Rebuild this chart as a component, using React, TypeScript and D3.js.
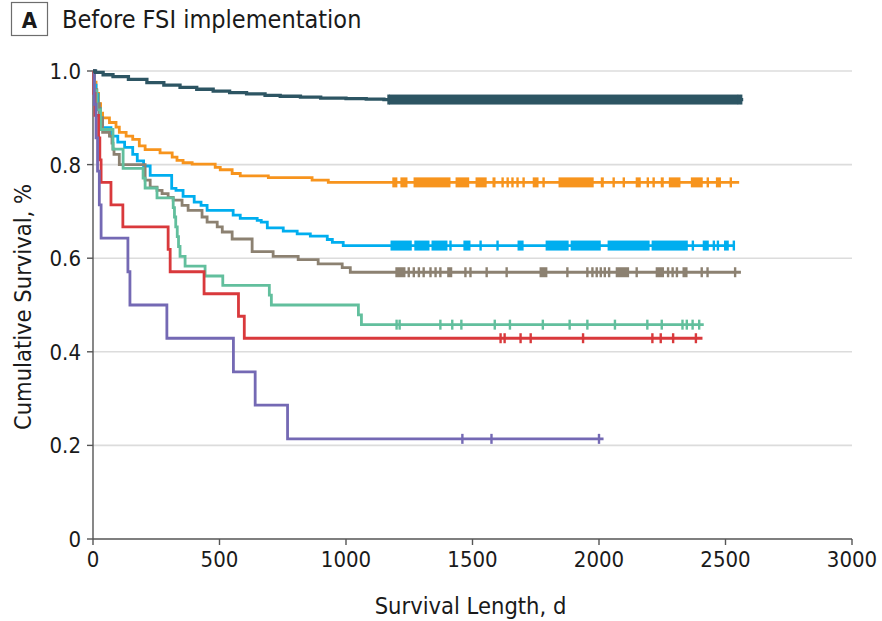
import React from 'react';
import * as d3 from 'd3';

const W = 882;
const H = 621;

const xTicks = [0, 500, 1000, 1500, 2000, 2500, 3000];
const yTicks = [0, 0.2, 0.4, 0.6, 0.8, 1.0];
const yTickLabels = ['0', '0.2', '0.4', '0.6', '0.8', '1.0'];

const panelLetter = 'A';
const panelTitle = 'Before FSI implementation';
const xTitle = 'Survival Length, d';
const yTitle = 'Cumulative Survival, %';

// [day, survival after step]
const darkSteps: [number, number][] = [
  [0, 1], [10, 0.997], [40, 0.992], [79, 0.988], [140, 0.982], [213, 0.975], [280, 0.97], [344, 0.965],
  [410, 0.961], [475, 0.957], [540, 0.954], [607, 0.951], [680, 0.948], [740, 0.946], [820, 0.944],
  [900, 0.942], [1000, 0.941], [1080, 0.94], [1150, 0.939],
];
const darkEnd = 2570;
const darkCensor: number[] = [1168, 2553, 2562];
const darkBands: [number, number][] = [[1170, 2550]];

const orangeSteps: [number, number][] = [
  [0, 1], [5, 0.976], [12, 0.952], [22, 0.93], [30, 0.91], [38, 0.9], [65, 0.89], [91, 0.88],
  [104, 0.869], [131, 0.861], [157, 0.854], [183, 0.84], [206, 0.832], [265, 0.825], [313, 0.816],
  [332, 0.809], [356, 0.804], [392, 0.801], [483, 0.794], [503, 0.789], [550, 0.781], [582, 0.776],
  [693, 0.772], [866, 0.767], [930, 0.762],
];
const orangeEnd = 2554;
const orangeCensor: number[] = [1619, 1639, 1658, 1678, 1702, 1781, 2058, 2098, 2193, 2216, 2430, 2521];
const orangeBands: [number, number][] = [
  [1183, 1203], [1215, 1243], [1267, 1413], [1433, 1487], [1512, 1556], [1579, 1591], [1738, 1761],
  [1840, 1979], [2007, 2019], [2145, 2165], [2244, 2256], [2276, 2322], [2363, 2410], [2462, 2482],
];

const blueSteps: [number, number][] = [
  [0, 1], [5, 0.97], [12, 0.95], [20, 0.92], [28, 0.9], [36, 0.879], [71, 0.861], [98, 0.848],
  [125, 0.837], [157, 0.822], [175, 0.808], [200, 0.797], [226, 0.777], [311, 0.749], [328, 0.745],
  [356, 0.732], [400, 0.72], [427, 0.713], [451, 0.702], [554, 0.692], [582, 0.685], [649, 0.681],
  [665, 0.677], [689, 0.665], [752, 0.658], [807, 0.652], [859, 0.647], [926, 0.64], [946, 0.634],
  [989, 0.627],
];
const blueEnd = 2537;
const blueCensor: number[] = [1413, 1532, 1599, 2371, 2454, 2470, 2533];
const blueBands: [number, number][] = [
  [1176, 1260], [1270, 1330], [1338, 1401], [1464, 1492], [1678, 1702], [1789, 1880], [1888, 2007],
  [2034, 2200], [2208, 2351], [2410, 2434], [2494, 2513],
];

const brownSteps: [number, number][] = [
  [0, 1], [5, 0.96], [15, 0.93], [25, 0.9], [38, 0.869], [65, 0.861], [75, 0.846], [79, 0.833],
  [83, 0.822], [104, 0.8], [206, 0.767], [226, 0.752], [253, 0.745], [273, 0.738], [297, 0.73],
  [317, 0.724], [352, 0.713], [376, 0.702], [431, 0.688], [451, 0.677], [491, 0.667], [511, 0.656],
  [550, 0.641], [629, 0.614], [712, 0.604], [811, 0.597], [890, 0.588], [985, 0.58], [1017, 0.57],
];
const brownEnd = 2561;
const brownCensor: number[] = [
  1248, 1268, 1288, 1307, 1334, 1354, 1373, 1472, 1492, 1556, 1635, 1875, 1954, 1974, 1991, 2007,
  2023, 2040, 2149, 2273, 2291, 2308, 2406, 2429, 2538,
];
const brownBands: [number, number][] = [
  [1195, 1235], [1400, 1420], [1765, 1796], [2066, 2119], [2224, 2257], [2330, 2350],
];

const tealSteps: [number, number][] = [
  [0, 1], [5, 0.958], [15, 0.917], [30, 0.875], [79, 0.833], [119, 0.792], [198, 0.771],
  [206, 0.75], [253, 0.729], [317, 0.708], [322, 0.688], [327, 0.667], [333, 0.646], [338, 0.625],
  [344, 0.604], [364, 0.583], [443, 0.562], [513, 0.542], [697, 0.521], [705, 0.5], [1049, 0.479],
  [1061, 0.458],
];
const tealEnd = 2414;
const tealCensor: number[] = [
  1200, 1212, 1373, 1420, 1456, 1588, 1648, 1778, 1884, 1954, 2063, 2191, 2248, 2330, 2347, 2370, 2396,
];

const redSteps: [number, number][] = [
  [0, 1], [3, 0.952], [8, 0.905], [22, 0.857], [27, 0.81], [32, 0.762], [71, 0.714], [118, 0.667],
  [297, 0.619], [305, 0.571], [439, 0.524], [575, 0.476], [598, 0.429],
];
const redEnd = 2409;
const redCensor: number[] = [1611, 1627, 1690, 1730, 1937, 2211, 2244, 2293, 2383];

const purpleSteps: [number, number][] = [
  [0, 1], [5, 0.929], [12, 0.857], [18, 0.786], [25, 0.714], [32, 0.643], [138, 0.571], [146, 0.5],
  [292, 0.429], [555, 0.357], [641, 0.286], [769, 0.214],
];
const purpleEnd = 2018;
const purpleCensor: number[] = [1460, 1575, 2000];

type Series = {
  color: string;
  width: number;
  steps: [number, number][];
  end: number;
  censor: number[];
  bands: [number, number][];
};

const seriesList: Series[] = [
  { color: '#f7941d', width: 2.8, steps: orangeSteps, end: orangeEnd, censor: orangeCensor, bands: orangeBands },
  { color: '#00aeef', width: 2.8, steps: blueSteps, end: blueEnd, censor: blueCensor, bands: blueBands },
  { color: '#8c8171', width: 2.8, steps: brownSteps, end: brownEnd, censor: brownCensor, bands: brownBands },
  { color: '#62bf9d', width: 2.8, steps: tealSteps, end: tealEnd, censor: tealCensor, bands: [] },
  { color: '#d9393c', width: 2.8, steps: redSteps, end: redEnd, censor: redCensor, bands: [] },
  { color: '#7469b4', width: 2.8, steps: purpleSteps, end: purpleEnd, censor: purpleCensor, bands: [] },
  { color: '#2d5563', width: 3.3, steps: darkSteps, end: darkEnd, censor: darkCensor, bands: darkBands },
];

const FONT = '"DejaVu Sans Condensed", "Liberation Sans Narrow", "Roboto", sans-serif';

export default function App() {
  const x = d3.scaleLinear().domain([0, 3000]).range([93, 852]);
  const y = d3.scaleLinear().domain([0, 1]).range([539, 71]);

  const line = d3
    .line<[number, number]>()
    .x((d) => x(d[0]))
    .y((d) => y(d[1]))
    .curve(d3.curveStepAfter);

  const valueAt = (steps: [number, number][], day: number) => {
    const i = d3.bisector((d: [number, number]) => d[0]).right(steps, day) - 1;
    return steps[Math.max(0, i)][1];
  };

  return (
    <svg
      width={W}
      height={H}
      style={{ position: 'absolute', left: 0, top: 0, background: '#fff' }}
      fontFamily={FONT}
    >
      {/* header */}
      <rect x={11.5} y={2.5} width={36} height={33} fill="#fff" stroke="#6d6d6d" strokeWidth={1.2} />
      <text x={29.5} y={27.5} textAnchor="middle" fontSize={22} fontWeight="bold" fill="#1a1a1a">
        {panelLetter}
      </text>
      <text x={62} y={28} fontSize={25} fill="#1a1a1a">
        {panelTitle}
      </text>

      {/* grid */}
      {yTicks.slice(1).map((t) => (
        <line key={'g' + t} x1={x(0)} x2={x(3000)} y1={y(t)} y2={y(t)} stroke="#dcdcdc" strokeWidth={1.6} />
      ))}

      {/* axes */}
      <line x1={x(0)} x2={x(3000)} y1={y(0)} y2={y(0)} stroke="#555" strokeWidth={1.4} />
      <line x1={x(0)} x2={x(0)} y1={y(0)} y2={y(1)} stroke="#555" strokeWidth={1.4} />
      {yTicks.map((t, i) => (
        <g key={'yt' + t}>
          <line x1={x(0) - 6} x2={x(0)} y1={y(t)} y2={y(t)} stroke="#555" strokeWidth={1.4} />
          <text x={x(0) - 12} y={y(t)} dy="0.36em" textAnchor="end" fontSize={22} fill="#1a1a1a">
            {yTickLabels[i]}
          </text>
        </g>
      ))}
      {xTicks.map((t) => (
        <g key={'xt' + t}>
          <line x1={x(t)} x2={x(t)} y1={y(0)} y2={y(0) + 6} stroke="#555" strokeWidth={1.4} />
          <text x={x(t)} y={y(0) + 28} textAnchor="middle" fontSize={22} fill="#1a1a1a">
            {t}
          </text>
        </g>
      ))}
      <text x={(x(0) + x(3000)) / 2 - 2} y={614} textAnchor="middle" fontSize={23.5} fill="#1a1a1a">
        {xTitle}
      </text>
      <text
        transform={`translate(31, ${(y(0) + y(1)) / 2 + 2}) rotate(-90)`}
        textAnchor="middle"
        fontSize={23.5}
        fill="#1a1a1a"
      >
        {yTitle}
      </text>

      {/* curves */}
      {seriesList.map((s, si) => {
        const last = s.steps[s.steps.length - 1][1];
        const pts: [number, number][] = [...s.steps, [s.end, last]];
        return (
          <g key={'s' + si}>
            <path d={line(pts) || ''} fill="none" stroke={s.color} strokeWidth={s.width} />
            {s.bands.map((b, bi) => (
              <rect
                key={'b' + bi}
                x={x(b[0])}
                width={Math.max(1, x(b[1]) - x(b[0]))}
                y={y(valueAt(s.steps, b[0])) - 5}
                height={10}
                fill={s.color}
              />
            ))}
            {s.censor.map((c, ci) => (
              <line
                key={'c' + ci}
                x1={x(c)}
                x2={x(c)}
                y1={y(valueAt(s.steps, c)) - 5}
                y2={y(valueAt(s.steps, c)) + 5}
                stroke={s.color}
                strokeWidth={2.4}
              />
            ))}
          </g>
        );
      })}
    </svg>
  );
}
